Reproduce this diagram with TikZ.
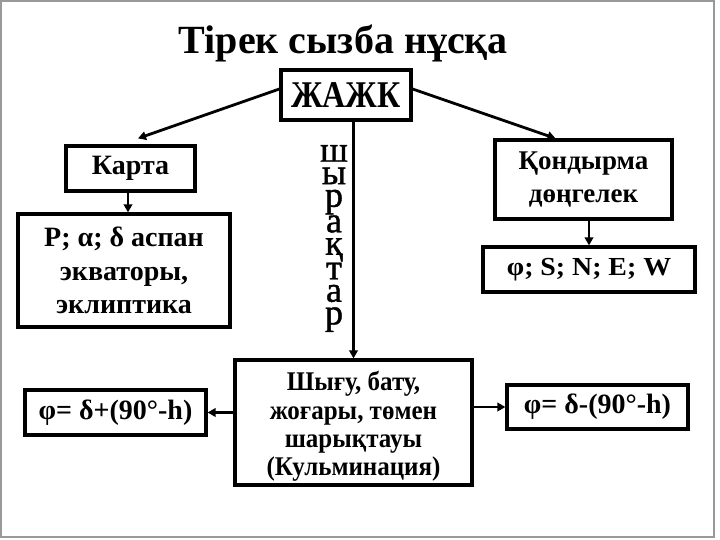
\documentclass[tikz,border=0pt]{standalone}
\usepackage{fontspec}
\setmainfont{Liberation Serif}
\newfontfamily\vertfont[FakeBold=1.2]{Liberation Serif}
\usetikzlibrary{arrows.meta}
\tikzset{
  box/.style={draw=black, line width=3.2pt, inner sep=0pt, align=center,
    font=\bfseries\fontsize{28}{33.5}\selectfont},
  txt/.style={inner sep=0pt, align=center},
  conn/.style={line width=2.8pt, -{Triangle[length=8pt,width=8.5pt]}},
}
\begin{document}
\begin{tikzpicture}[x=1pt,y=-1pt]
\useasboundingbox (0,0) rectangle (720,540);
\fill[white] (0,0) rectangle (720,540);
\draw[gray!80, line width=1.5pt] (1,1) rectangle (714,537);

\node[anchor=base, font=\bfseries\fontsize{40}{44}\selectfont, inner sep=0pt] (title) at (343,54) {Тірек сызба нұсқа};

\node[box, minimum width=130pt, minimum height=50pt, font=\bfseries\fontsize{32}{36}\selectfont] (jazhk) at (346,95) {\scalebox{1}[1.18]{ЖАЖК}};
\node[box, minimum width=129pt, minimum height=45pt] (karta) at (130.5,168.5) {Карта};
\node[box, minimum width=212pt, minimum height=113pt] (pbox) at (124,270.5) {P; α; δ аспан\\экваторы,\\эклиптика};
\node[box, minimum width=177pt, minimum height=79pt, font=\bfseries\fontsize{27}{33}\selectfont] (kond) at (583.5,179.5) {Қондырма\\дөңгелек};
\node[box, minimum width=212pt, minimum height=45pt, font=\bfseries\fontsize{26}{28}\selectfont] (phi) at (589,269.5) {\scalebox{1.07}[1]{φ; S; N; E; W}};
\node[box, minimum width=237pt, minimum height=125pt] (center) at (353.5,422.5) {};
\node[txt, font=\bfseries\fontsize{25}{28.5}\selectfont] (centertext) at (353.5,427) {\scalebox{1}[1.08]{\begin{tabular}{@{}c@{}}Шығу, бату,\\[-2.3pt]жоғары, төмен\\[-2.3pt]шарықтауы\\[-2.3pt](Кульминация)\end{tabular}}};
\node[box, minimum width=181pt, minimum height=45pt] (lphi) at (115.5,412.5) {φ= δ+(90°-h)};
\node[box, minimum width=181pt, minimum height=44pt] (rphi) at (597.5,407) {φ= δ-(90°-h)};

\node[anchor=north, inner sep=0pt, align=center, font=\vertfont\fontsize{36}{22.5}\selectfont] (vert) at (334,145) {ш\\ы\\р\\а\\қ\\т\\а\\р};

\draw[conn] ([yshift=6pt]jazhk.west) -- ([xshift=7.5pt,yshift=6pt]karta.north);
\draw[conn] ([yshift=6pt]jazhk.east) -- ([xshift=-28pt]kond.north);
\draw[conn] ([xshift=-2.5pt]karta.south) -- ([xshift=-2.5pt]karta.south |- pbox.north);
\draw[conn] (phi.north |- kond.south) -- (phi.north);
\draw[conn] (center.north |- jazhk.south) -- (center.north);
\draw[conn] (center.west |- lphi.east) -- (lphi.east);
\draw[conn] (center.east |- rphi.west) -- (rphi.west);
\end{tikzpicture}
\end{document}
